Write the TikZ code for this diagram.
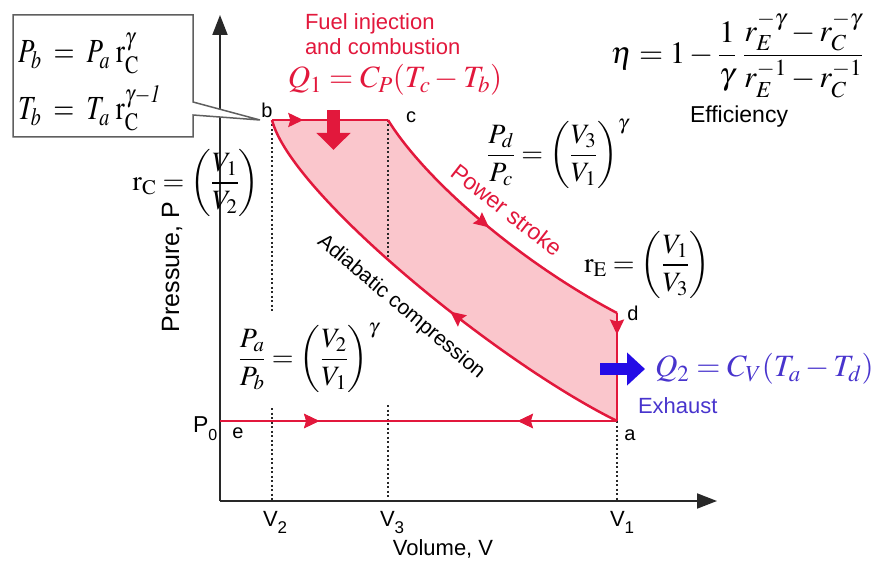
\documentclass[tikz,border=0pt]{standalone}
\usepackage{mathptmx}
\usepackage[no-math]{fontspec}
\setsansfont{Liberation Sans}
\usetikzlibrary{arrows.meta,decorations.markings}
\definecolor{cred}{RGB}{226,24,60}
\definecolor{cpink}{RGB}{250,198,204}
\definecolor{cblue}{RGB}{36,12,230}
\definecolor{ctblue}{RGB}{72,52,205}
\definecolor{caxis}{RGB}{40,40,40}
\definecolor{cbox}{RGB}{95,95,95}
\newcommand{\msz}[1]{\fontsize{#1}{#1}\selectfont}
\tikzset{
  every node/.style={inner sep=0pt, outer sep=0pt},
  lbl/.style={font=\sffamily\msz{20}},
  rlbl/.style={font=\sffamily\msz{22}, text=cred},
  mth/.style={font=\msz{28}},
  axisline/.style={draw=caxis, line width=2pt, -{Triangle[length=20pt,width=15pt]}},
  dots/.style={draw=caxis, line width=1.5pt, dash pattern=on 2pt off 2.5pt},
  cyc/.style={draw=cred, line width=2.5pt, line join=round},
  midarrow/.style={postaction={decorate}, decoration={markings, mark=at position #1 with {\arrow{Stealth[length=15pt,width=14pt,inset=2pt]}}}},
  midarrowrev/.style={postaction={decorate}, decoration={markings, mark=at position #1 with {\arrowreversed{Stealth[length=15pt,width=14pt,inset=2pt]}}}},
}
\begin{document}
\begin{tikzpicture}[x=1pt,y=-1pt]
\useasboundingbox (0,0) rectangle (874,564);
% key points
\coordinate (O) at (220,501);
\coordinate (ytip) at (220,15);
\coordinate (xtip) at (717,501);
\coordinate (b) at (272,120);
\coordinate (c) at (388,120);
\coordinate (d) at (617,313);
\coordinate (a) at (617,421);
\coordinate (e) at (220,421);
\coordinate (v2a) at (272,312);
\coordinate (v2b) at (272,408);
\coordinate (v2x) at (272,501);
\coordinate (v3a) at (388,258);
\coordinate (v3b) at (388,405);
\coordinate (v3x) at (388,501);
\coordinate (v1x) at (617,501);
% pink area
\fill[cpink] (b) -- (c) .. controls (425,180) and (520,262) .. (d) -- (a) .. controls (494,360) and (290,192) .. (b) -- cycle;
% dotted
\draw[dots] (b) -- (v2a); \draw[dots] (v2b) -- (v2x);
\draw[dots] (c) -- (v3a); \draw[dots] (v3b) -- (v3x);
\draw[dots] (a) -- (v1x);
% axes
\draw[axisline] (O) -- (ytip);
\draw[axisline] (O) -- (xtip);
% cycle
\draw[cyc, midarrow=0.27] (b) -- (c);
\draw[cyc, midarrow=0.49] (c) .. controls (425,180) and (520,262) .. (d);
\draw[cyc, midarrow=0.2] (d) -- (a);
\draw[cyc, midarrow=0.43] (a) .. controls (494,360) and (290,192) .. (b);
\draw[cyc, midarrow=0.25, midarrowrev=0.75] (e) -- (a);
% heat arrows
\coordinate (q1s) at (333.5,110);
\coordinate (q1e) at (333.5,150);
\draw[cred, line width=13pt, -{Triangle[length=17pt,width=33pt]}] (q1s) -- (q1e);
\coordinate (q2s) at (600,369);
\coordinate (q2e) at (645,369);
\draw[cblue, line width=12pt, -{Triangle[length=18pt,width=32pt]}] (q2s) -- (q2e);
% callout
\filldraw[fill=white, draw=cbox, line width=1.5pt] (193,102) -- (193,15) -- (13,15) -- (13,137) -- (193,137) -- (193,115) -- (260,120) -- cycle;
\node[mth, font=\msz{27}, anchor=base west] (pb) at (18,63) {\scalebox{1}[1.25]{$P_b \;=\; P_a\;\mathrm{r}_{\mathrm{C}}^{\gamma}$}};
\node[mth, font=\msz{27}, anchor=base west] (tb) at (18,120) {\scalebox{1}[1.25]{$T_b \;=\; T_a\;\mathrm{r}_{\mathrm{C}}^{\gamma-\mathit{1}}$}};
% top texts
\node[rlbl, anchor=base west] (fuel1) at (305,30) {Fuel injection};
\node[rlbl, anchor=base west] (fuel2) at (305,55) {and combustion};
\node[mth, font=\msz{31}, text=cred] (q1) at (395,80) {$Q_1 = C_P(T_c - T_b)$};
\node[mth, font=\msz{31}] (eta) at (737,55) {$\displaystyle \eta = 1 - \frac{1}{\gamma}\;\frac{r_E^{-\gamma} - r_C^{-\gamma}}{r_E^{-1} - r_C^{-1}}$};
\node[lbl, font=\sffamily\msz{23}] (effl) at (739,117) {Efficiency};
% formulas
\node[mth] (rc) at (196,183) {$\displaystyle \mathrm{r}_{\mathrm{C}} = \left(\frac{V_1}{V_2}\right)$};
\node[mth] (pdpc) at (558,154) {$\displaystyle \frac{P_d}{P_c} = \left(\frac{V_3}{V_1}\right)^{\gamma}$};
\node[mth] (re) at (647,265) {$\displaystyle \mathrm{r}_{\mathrm{E}} = \left(\frac{V_1}{V_3}\right)$};
\node[mth] (papb) at (309,358) {$\displaystyle \frac{P_a}{P_b} = \left(\frac{V_2}{V_1}\right)^{\gamma}$};
\node[mth, font=\msz{31}, text=ctblue, anchor=west] (q2) at (655,369) {$Q_2 = C_V(T_a - T_d)$};
\node[lbl, font=\sffamily\msz{22}, text=ctblue, anchor=base west] (exh) at (638,413) {Exhaust};
% curve labels
\node[rlbl, font=\sffamily\msz{23}, rotate=-38] (pow) at (507,210) {Power stroke};
\node[lbl, font=\sffamily\msz{21}, rotate=-40] (adi) at (401,307) {Adiabatic compression};
% point labels
\node[lbl] (lb) at (267,110) {b};
\node[lbl] (lc) at (411,117) {c};
\node[lbl] (ld) at (633,313) {d};
\node[lbl] (la) at (630,435) {a};
\node[lbl] (le) at (238,433) {e};
\node[lbl, font=\sffamily\msz{23}, anchor=base west] (p0) at (193,432) {P\raisebox{-8pt}{\msz{16}0}};
\node[lbl, font=\sffamily\msz{22}, anchor=base west] (lv2) at (263,526) {V\raisebox{-7pt}{\msz{17}2}};
\node[lbl, font=\sffamily\msz{22}, anchor=base west] (lv3) at (380,526) {V\raisebox{-7pt}{\msz{17}3}};
\node[lbl, font=\sffamily\msz{22}, anchor=base west] (lv1) at (610,526) {V\raisebox{-7pt}{\msz{17}1}};
\node[lbl, font=\sffamily\msz{22}] (volx) at (443,549) {Volume, V};
\node[lbl, font=\sffamily\msz{25}, rotate=90] (presy) at (172,267) {Pressure, P};
\end{tikzpicture}
\end{document}
